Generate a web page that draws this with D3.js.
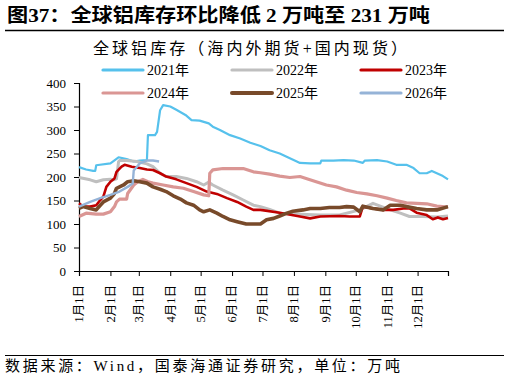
<!DOCTYPE html>
<html><head><meta charset="utf-8">
<script src="https://cdn.jsdelivr.net/npm/d3@7/dist/d3.min.js"></script>
<style>
html,body{margin:0;padding:0;background:#fff;}
svg{display:block;}
text{font-family:"Liberation Serif","Noto Sans CJK SC",serif;fill:#000;}
</style></head>
<body><svg id="c" width="509" height="378"></svg>
<script>
const heading = "图37：全球铝库存环比降低 2 万吨至 231 万吨";
const chartTitle = "全球铝库存（海内外期货+国内现货）";
const source = "数据来源：Wind，国泰海通证券研究，单位：万吨";
const yTicks = [0, 50, 100, 150, 200, 250, 300, 350, 400];
const xTickLabels = ["1月1日","2月1日","3月1日","4月1日","5月1日","6月1日","7月1日","8月1日","9月1日","10月1日","11月1日","12月1日"];
const seriesNames = ["2021年","2022年","2023年","2024年","2025年","2026年"];

const s2021 = [["01-01",221],["01-08",216],["01-15",213],["01-17",213],["01-18",225],["02-01",229],["02-09",242],["02-17",238],["02-24",233],["03-02",235],["03-09",236],["03-10",289],["03-17",289],["03-19",296],["03-22",342],["03-25",353],["04-01",350],["04-07",343],["04-16",332],["04-22",321],["04-30",320],["05-09",314],["05-13",307],["05-20",300],["05-30",289],["06-09",282],["06-19",273],["06-29",266],["07-08",257],["07-18",250],["07-28",240],["08-07",230],["08-17",229],["08-27",229],["08-28",235],["09-09",235],["09-19",236],["09-29",235],["10-08",230],["10-10",235],["10-22",236],["11-01",233],["11-10",226],["11-20",226],["11-27",219],["12-03",208],["12-10",208],["12-15",213],["12-20",208],["12-26",202],["12-31",195]];
const s2022 = [["01-01",199],["01-12",194],["01-18",190],["01-25",194],["02-01",195],["02-04",194],["02-07",196],["02-09",232],["02-10",235],["02-17",235],["02-27",233],["03-09",228],["03-15",222],["03-22",208],["03-28",201],["04-07",201],["04-17",197],["04-27",190],["05-04",183],["05-09",189],["05-13",183],["05-23",172],["06-02",162],["06-12",151],["06-22",140],["06-29",137],["07-08",131],["07-18",123],["08-07",121],["08-27",119],["09-15",119],["10-05",130],["10-18",144],["11-04",130],["11-14",123],["11-23",116],["12-06",116],["12-20",115],["12-31",117]];
const s2023 = [["01-01",144],["01-05",137],["01-12",137],["01-18",140],["01-22",151],["01-25",158],["01-28",179],["02-01",190],["02-05",197],["02-07",211],["02-12",222],["02-15",226],["02-22",222],["03-02",219],["03-09",216],["03-15",215],["03-22",208],["03-28",201],["04-07",195],["04-17",187],["04-27",179],["05-07",169],["05-17",164],["05-27",155],["06-06",147],["06-15",137],["06-22",130],["06-29",130],["07-18",124],["08-07",116],["08-17",112],["08-27",116],["09-15",117],["09-25",116],["10-05",116],["10-08",137],["10-18",133],["10-28",130],["11-07",130],["11-17",133],["11-23",133],["11-30",124],["12-10",119],["12-16",110],["12-21",114],["12-26",110],["12-31",113]];
const s2024 = [["01-01",116],["01-08",123],["01-18",121],["01-25",121],["02-01",126],["02-05",137],["02-07",147],["02-10",153],["02-17",153],["02-18",165],["02-24",183],["02-28",190],["03-05",195],["03-10",190],["03-15",187],["03-25",183],["04-04",179],["04-14",176],["04-24",169],["05-04",162],["05-09",160],["05-10",208],["05-13",215],["05-23",218],["06-02",218],["06-12",218],["06-22",211],["06-29",209],["07-08",206],["07-18",202],["07-28",199],["08-07",201],["08-13",197],["08-23",190],["09-02",183],["09-12",179],["09-22",172],["10-02",167],["10-12",164],["10-22",160],["11-01",155],["11-10",150],["11-20",145],["11-30",144],["12-10",143],["12-20",138],["12-31",136]];
const s2025 = [["01-01",133],["01-05",137],["01-12",133],["01-18",130],["01-22",140],["01-25",147],["02-01",155],["02-05",165],["02-07",176],["02-14",183],["02-18",190],["02-24",192],["03-02",190],["03-09",187],["03-15",179],["03-22",174],["03-28",169],["04-04",160],["04-11",153],["04-17",145],["04-24",140],["04-30",130],["05-04",126],["05-10",130],["05-17",123],["05-23",116],["05-30",109],["06-06",105],["06-15",100],["06-29",100],["07-05",109],["07-12",112],["07-18",117],["07-25",123],["07-31",127],["08-10",130],["08-17",133],["08-27",133],["09-05",135],["09-15",135],["09-22",137],["09-29",136],["10-05",126],["10-08",138],["10-18",133],["10-28",130],["11-04",140],["11-14",140],["11-20",137],["11-30",133],["12-10",130],["12-20",130],["12-31",137]];
const s2026 = [["01-01",137],["01-12",147],["01-22",155],["02-01",162],["02-10",169],["02-18",179],["02-23",186],["02-24",214],["03-02",229],["03-09",235],["03-15",235],["03-21",233]];

const allSeries = [s2021, s2022, s2023, s2024, s2025, s2026];
const colors = ["#56C1EC","#BFBFBF","#C00000","#DA9694","#784A2A","#95B3D7"];
const widths = [2.2, 3, 2.6, 3.2, 3.6, 2.4];

const svg = d3.select("#c");
const parse = d3.timeParse("%Y-%m-%d");
const x = d3.scaleTime().domain([parse("2021-01-01"), parse("2021-12-31")]).range([79, 448]);
const y = d3.scaleLinear().domain([0, 400]).range([271, 83]);

// heading
svg.append("text").attr("x", 7).attr("y", 22).attr("font-size", 19).attr("font-weight", "bold")
  .attr("textLength", 423).attr("lengthAdjust", "spacingAndGlyphs").text(heading);
svg.append("line").attr("x1", 5).attr("x2", 504).attr("y1", 30.5).attr("y2", 30.5).attr("stroke", "#000").attr("stroke-width", 1.5);

// chart title
svg.append("text").attr("x", 93).attr("y", 54).attr("font-size", 16)
  .attr("textLength", 314).attr("lengthAdjust", "spacing").text(chartTitle);

// legend
const legX = [103, 232, 361];
const legY = [70, 93];
seriesNames.forEach((n, i) => {
  const cx = legX[i % 3], cy = legY[Math.floor(i / 3)];
  svg.append("line").attr("x1", cx).attr("x2", cx + 40).attr("y1", cy).attr("y2", cy)
    .attr("stroke", colors[i]).attr("stroke-width", i === 4 ? 4 : 3.2).attr("stroke-linecap", "round");
  svg.append("text").attr("x", cx + 44).attr("y", cy + 5).attr("font-size", 14).text(n);
});

// axes
const yAxis = d3.axisLeft(y).tickValues(yTicks).tickSize(5).tickPadding(8).tickFormat(d3.format("d"));
const gy = svg.append("g").attr("transform", "translate(79,0)").call(yAxis);
gy.select(".domain").attr("stroke", "#000").attr("stroke-width", 1.2);
gy.selectAll(".tick line").attr("stroke", "#000");
gy.selectAll("text").attr("font-size", 13).attr("font-family", "Liberation Serif, serif").attr("fill", "#000");

const monthTicks = d3.range(12).map(m => new Date(2021, m, 1)).concat([parse("2021-12-31")]);
const xAxis = d3.axisBottom(x).tickValues(monthTicks).tickSize(5).tickFormat("");
const gx = svg.append("g").attr("transform", "translate(0,271)").call(xAxis);
gx.select(".domain").attr("stroke", "#000").attr("stroke-width", 1.2);
gx.selectAll(".tick line").attr("stroke", "#000");

xTickLabels.forEach((lab, i) => {
  const px = x(new Date(2021, i, 1));
  svg.append("text").attr("transform", `translate(${px},285) rotate(-90)`)
    .attr("text-anchor", "end").attr("dy", "0.35em").attr("font-size", 12.5).text(lab);
});

// series
const line = d3.line().x(d => x(parse("2021-" + d[0]))).y(d => y(d[1]));
allSeries.forEach((s, i) => {
  svg.append("path").datum(s).attr("d", line).attr("fill", "none")
    .attr("stroke", colors[i]).attr("stroke-width", widths[i]).attr("stroke-linejoin", "round");
});

// footer
svg.append("line").attr("x1", 5).attr("x2", 504).attr("y1", 355.5).attr("y2", 355.5).attr("stroke", "#000").attr("stroke-width", 1);
svg.append("text").attr("x", 5).attr("y", 371).attr("font-size", 15)
  .attr("textLength", 395).attr("lengthAdjust", "spacing").text(source);
</script></body></html>
